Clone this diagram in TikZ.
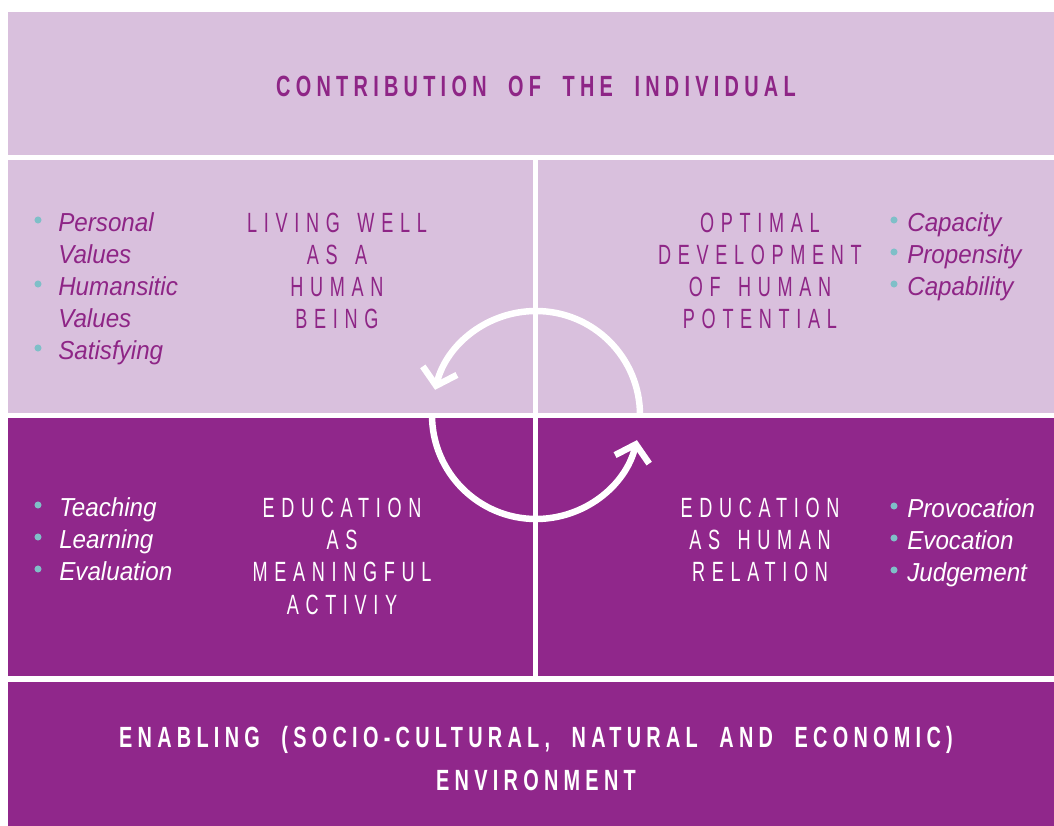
\documentclass[tikz,border=0pt]{standalone}
\usepackage{fontspec}
\setmainfont{Liberation Sans}
\newfontfamily\titlefont[FakeStretch=0.68,LetterSpace=18,WordSpace=2]{Liberation Sans}
\newfontfamily\headfont[FakeStretch=0.65,LetterSpace=24,WordSpace=1.5]{Liberation Sans}
\newfontfamily\listfont[FakeStretch=0.93]{Liberation Sans}
\usetikzlibrary{arrows.meta}

\definecolor{lightpanel}{HTML}{D9C0DD}
\definecolor{darkpanel}{HTML}{90278B}
\definecolor{headpurple}{HTML}{8E2586}
\definecolor{dotteal}{HTML}{7FBFC8}

\begin{document}
\begin{tikzpicture}[x=0.025cm, y=0.025cm,
  lightcell/.style={fill=lightpanel},
  darkcell/.style={fill=darkpanel},
  bandtitle/.style={font=\titlefont\bfseries\fontsize{20.8}{25}\selectfont, inner sep=0pt, anchor=base},
  headline/.style={font=\headfont\fontsize{19.8}{24}\selectfont, inner sep=0pt, anchor=base},
  itemtext/.style={font=\listfont\itshape\fontsize{18.5}{22}\selectfont, inner sep=0pt, anchor=base west},
  itemdot/.style={circle, fill=dotteal, inner sep=0pt, minimum size=5pt},
  loop arrow/.style={draw=white, line width=4.6pt, -{Straight Barb[length=11pt,width=25pt]}}]
  \useasboundingbox (0,0) rectangle (1054,-826);
  % panels
  \fill[lightcell] (8,-12) rectangle (1054,-155);
  \fill[lightcell] (8,-160) rectangle (533,-413);
  \fill[lightcell] (538,-160) rectangle (1054,-413);
  \fill[darkcell] (8,-418) rectangle (533,-676);
  \fill[darkcell] (538,-418) rectangle (1054,-676);
  \fill[darkcell] (8,-682) rectangle (1054,-826);
  % top band
  \node[bandtitle, text=headpurple] (contrib) at (536,-97) {CONTRIBUTION OF THE INDIVIDUAL};
  % living well
  \foreach \txt [count=\i] in {LIVING WELL, AS A, HUMAN, BEING}
    \node[headline, text=headpurple] (living\i) at (337,-201-32*\i) {\txt};
  \foreach \txt [count=\i] in {Personal, Values, Humansitic, Values, Satisfying}
    \node[itemtext, text=headpurple] (livingitem\i) at (58,-200-32*\i) {\txt};
  \foreach \i in {1,3,5}
    \node[itemdot] (livingdot\i) at (38,-188-32*\i) {};
  % optimal development
  \foreach \txt [count=\i] in {OPTIMAL, DEVELOPMENT, OF HUMAN, POTENTIAL}
    \node[headline, text=headpurple] (optimal\i) at (760,-201-32*\i) {\txt};
  \foreach \txt [count=\i] in {Capacity, Propensity, Capability} {
    \node[itemtext, text=headpurple] (optimalitem\i) at (907,-200-32*\i) {\txt};
    \node[itemdot] (optimaldot\i) at (894,-188-32*\i) {};
  }
  % meaningful activity
  \foreach \txt [count=\i] in {EDUCATION, AS, MEANINGFUL, ACTIVIY}
    \node[headline, text=white] (activity\i) at (342,-486-32*\i) {\txt};
  \foreach \txt [count=\i] in {Teaching, Learning, Evaluation} {
    \node[itemtext, text=white] (activityitem\i) at (59,-485-32*\i) {\txt};
    \node[itemdot] (activitydot\i) at (38,-473-32*\i) {};
  }
  % human relation
  \foreach \txt [count=\i] in {EDUCATION, AS HUMAN, RELATION}
    \node[headline, text=white] (relation\i) at (760,-486-32*\i) {\txt};
  \foreach \txt [count=\i] in {Provocation, Evocation, Judgement} {
    \node[itemtext, text=white] (relationitem\i) at (907,-486-32*\i) {\txt};
    \node[itemdot] (relationdot\i) at (894,-474-32*\i) {};
  }
  % bottom band
  \node[bandtitle, text=white] (enabling) at (536,-747) {ENABLING (SOCIO-CULTURAL, NATURAL AND ECONOMIC)};
  \node[bandtitle, text=white] (environment) at (536,-790) {ENVIRONMENT};
  % cycle
  \coordinate (hub) at (536,-415);
  \draw[loop arrow] (hub) ++(0:104) arc[start angle=0, end angle=166, radius=104];
  \draw[loop arrow] (hub) ++(180:104) arc[start angle=180, end angle=346, radius=104];
\end{tikzpicture}
\end{document}
